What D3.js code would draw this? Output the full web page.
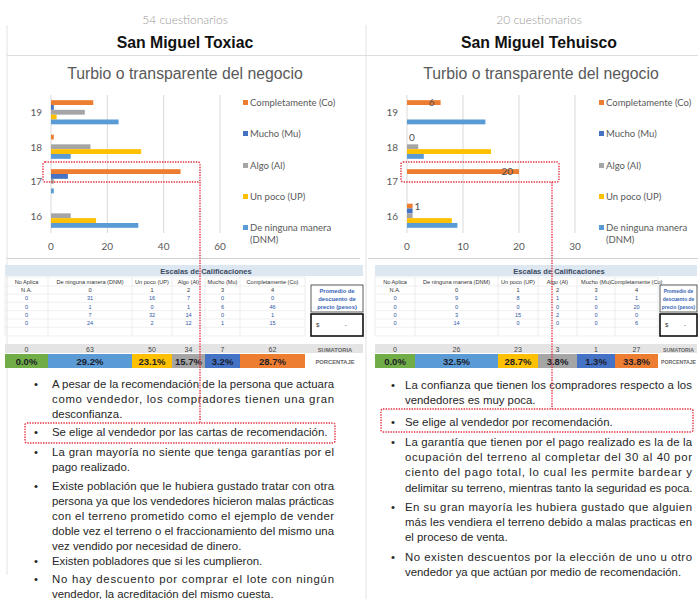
<!DOCTYPE html>
<html>
<head>
<meta charset="utf-8">
<script src="https://cdn.jsdelivr.net/npm/d3@7"></script>
<style>
  body { margin: 0; background: #fff; }
  svg { display: block; }
</style>
</head>
<body>
<svg id="chart"></svg>
<script>
// ---- Data ----
const questions = [19, 18, 17, 16];
const seriesKeys = ["Co", "Mu", "Al", "UP", "DNM"];
const seriesNames = ["Completamente (Co)", "Mucho (Mu)", "Algo (Al)", "Un poco (UP)", "De ninguna manera (DNM)"];
const seriesColors = ["#ed7d31", "#4472c4", "#a5a5a5", "#ffc000", "#5b9bd5"];

// San Miguel Toxiac, values for questions 19, 18, 17, 16
const toxiacCo = [15, 1, 46, 0];
const toxiacMu = [1, 0, 6, 0];
const toxiacAl = [12, 14, 1, 7];
const toxiacUP = [2, 32, 0, 16];
const toxiacDNM = [24, 7, 1, 31];

// San Miguel Tehuisco, values for questions 19, 18, 17, 16
const tehuiscoCo = [6, 0, 20, 1];
const tehuiscoMu = [0, 0, 0, 1];
const tehuiscoAl = [0, 2, 0, 1];
const tehuiscoUP = [0, 15, 0, 8];
const tehuiscoDNM = [14, 3, 0, 9];

const toxiacTicks = [0, 20, 40, 60];
const tehuiscoTicks = [0, 10, 20, 30];

const tableHeaders = ["No Aplica", "De ninguna manera (DNM)", "Un poco (UP)", "Algo (Al)", "Mucho (Mu)", "Completamente (Co)"];
const tableCodes = ["N.A.", "0", "1", "2", "3", "4"];
const pctColors = ["#70ad47", "#5b9bd5", "#ffc000", "#a5a5a5", "#4472c4", "#ed7d31"];

const toxiacBullets = [
  ["A pesar de la recomendación de la persona que actuara", "como vendedor, los compradores tienen una gran", "desconfianza."],
  ["Se elige al vendedor por las cartas de recomendación."],
  ["La gran mayoría no siente que tenga garantías por el", "pago realizado."],
  ["Existe población que le hubiera gustado tratar con otra", "persona ya que los vendedores hicieron malas prácticas", "con el terreno prometido como el ejemplo de vender", "doble vez el terreno o el fraccionamiento del mismo una", "vez vendido por necesidad de dinero."],
  ["Existen pobladores que si les cumplieron."],
  ["No hay descuento por comprar el lote con ningún", "vendedor, la acreditación del mismo cuesta."]
];
const tehuiscoBullets = [
  ["La confianza que tienen los compradores respecto a los", "vendedores es muy poca."],
  ["Se elige al vendedor por recomendación."],
  ["La garantía que tienen por el pago realizado es la de la", "ocupación del terreno al completar del 30 al 40 por", "ciento del pago total, lo cual les permite bardear y", "delimitar su terreno, mientras tanto la seguridad es poca."],
  ["En su gran mayoría les hubiera gustado que alguien", "más les vendiera el terreno debido a malas practicas en", "el proceso de venta."],
  ["No existen descuentos por la elección de uno u otro", "vendedor ya que actúan por medio de recomendación."]
];

// ---- Setup ----
const width = 698, height = 599;
const svg = d3.select("#chart").attr("width", width).attr("height", height);
svg.append("rect").attr("width", width).attr("height", height).attr("fill", "#fff");

const sans = "'Liberation Sans', Arial, sans-serif";
const calibri = "Lato, 'Open Sans', sans-serif";
const red = "#e2303f";

// panel frame lines
svg.append("line").attr("x1", 7).attr("x2", 7).attr("y1", 25).attr("y2", 575).attr("stroke", "#e3e3e3");
svg.append("line").attr("x1", 366).attr("x2", 366).attr("y1", 25).attr("y2", 599).attr("stroke", "#e3e3e3");
svg.append("line").attr("x1", 7).attr("x2", width).attr("y1", 55.5).attr("y2", 55.5).attr("stroke", "#dedede");

function drawHeader(cx, count, name) {
  svg.append("text").attr("x", cx).attr("y", 24).attr("text-anchor", "middle")
    .style("font-family", calibri).style("font-weight", 300).style("font-size", "12px")
    .attr("fill", "#9a9a9a").text(count);
  svg.append("text").attr("x", cx).attr("y", 48).attr("text-anchor", "middle")
    .style("font-family", sans).style("font-weight", "bold").style("font-size", "15.8px")
    .attr("fill", "#111").text(name);
}
drawHeader(185, "54 cuestionarios", "San Miguel Toxiac");
drawHeader(539, "20 cuestionarios", "San Miguel Tehuisco");

function drawChart(opts) {
  const g = svg.append("g");
  const rows = questions.map((q, i) => {
    const r = { q: q };
    seriesKeys.forEach(k => r[k] = opts.values[k][i]);
    return r;
  });

  g.append("text").attr("x", opts.titleX).attr("y", 79).attr("text-anchor", "middle")
    .style("font-family", sans).style("font-size", "15.8px").attr("fill", "#595959")
    .text("Turbio o transparente del negocio");

  const x = d3.scaleLinear().domain([0, d3.max(opts.ticks)]).range(opts.xRange);
  const y = d3.scaleBand().domain(questions).range([95, 233]).paddingInner(0.3).paddingOuter(0.15);
  const ySub = d3.scaleBand().domain(seriesKeys).range([0, y.bandwidth()]);

  // gridlines and tick labels
  g.selectAll(".grid").data(opts.ticks).enter().append("line")
    .attr("x1", d => x(d)).attr("x2", d => x(d)).attr("y1", 95).attr("y2", 233)
    .attr("stroke", "#d9d9d9");
  g.selectAll(".tick").data(opts.ticks).enter().append("text")
    .attr("x", d => x(d)).attr("y", 250).attr("text-anchor", "middle")
    .style("font-family", calibri).style("font-size", "10px").attr("fill", "#595959")
    .text(d => d);

  // category labels
  g.selectAll(".cat").data(questions).enter().append("text")
    .attr("x", opts.xRange[0] - 9).attr("y", d => y(d) + y.bandwidth() / 2 + 4)
    .attr("text-anchor", "end")
    .style("font-family", calibri).style("font-size", "10px").attr("fill", "#595959")
    .text(d => d);

  // bars
  seriesKeys.forEach((k, si) => {
    g.selectAll(".bar-" + k).data(rows).enter().append("rect")
      .attr("x", x(0))
      .attr("y", d => y(d.q) + ySub(k))
      .attr("width", d => x(d[k]) - x(0))
      .attr("height", ySub.bandwidth())
      .attr("fill", seriesColors[si]);
  });

  // data labels (Completamente only)
  if (opts.labels) {
    g.selectAll(".lbl").data(rows).enter().append("text")
      .attr("x", d => (x(d.Co) - x(0) > 20) ? x(d.Co) - 6 : x(d.Co) + 2)
      .attr("text-anchor", d => (x(d.Co) - x(0) > 20) ? "end" : "start")
      .attr("y", d => y(d.q) + ySub("Co") + ySub.bandwidth() / 2 + 3.5)
      .style("font-family", calibri).style("font-size", "10px").attr("fill", "#505050")
      .text(d => d.Co);
  }

  // legend
  const legY = [103, 134, 166, 197, 228];
  seriesKeys.forEach((k, si) => {
    g.append("rect").attr("x", opts.legendX).attr("y", legY[si] - 3)
      .attr("width", 5).attr("height", 5).attr("fill", seriesColors[si]);
    const t = g.append("text").attr("x", opts.legendX + 7).attr("y", legY[si] + 3)
      .style("font-family", calibri).style("font-size", "9.5px").attr("fill", "#595959");
    if (k === "DNM") {
      t.append("tspan").text("De ninguna manera");
      t.append("tspan").attr("x", opts.legendX + 7).attr("dy", 12).text("(DNM)");
    } else {
      t.text(seriesNames[si]);
    }
  });

  // faint chart frame bottom
  g.append("line").attr("x1", opts.frame[0]).attr("x2", opts.frame[1]).attr("y1", 258.5).attr("y2", 258.5)
    .attr("stroke", "#d0d0d0");
  return rows;
}

const toxiacRows = drawChart({
  values: { Co: toxiacCo, Mu: toxiacMu, Al: toxiacAl, UP: toxiacUP, DNM: toxiacDNM },
  ticks: toxiacTicks, xRange: [51, 220], titleX: 185, legendX: 243, labels: false, frame: [7, 360]
});
const tehuiscoRows = drawChart({
  values: { Co: tehuiscoCo, Mu: tehuiscoMu, Al: tehuiscoAl, UP: tehuiscoUP, DNM: tehuiscoDNM },
  ticks: tehuiscoTicks, xRange: [407, 575], titleX: 541, legendX: 599, labels: true, frame: [368, 698]
});

// ---- Tables ----
function drawTable(rows, cols, boxX, boxW, headerCx) {
  const g = svg.append("g");
  const x0 = cols[0], xEnd = boxX + boxW;
  const centers = d3.range(cols.length - 1).map(i => (cols[i] + cols[i + 1]) / 2);
  const tableRows = rows.slice().reverse().map(d => [0, d.DNM, d.UP, d.Al, d.Mu, d.Co]);
  const totals = d3.range(6).map(c => d3.sum(tableRows, r => r[c]));
  const grand = d3.sum(totals);
  const boxFont = boxW < 45 ? "4.9px" : "5.8px";

  g.append("rect").attr("x", x0).attr("y", 265).attr("width", xEnd - x0).attr("height", 11).attr("fill", "#dde7f2");
  g.append("text").attr("x", headerCx).attr("y", 273.5).attr("text-anchor", "middle")
    .style("font-family", sans).style("font-weight", "bold").style("font-size", "7.5px")
    .attr("fill", "#3b4a60").text("Escalas de Calificaciones");

  // faint grid
  const rowLines = [277, 286, 294, 302.3, 310.6, 319, 327.3, 336];
  rowLines.forEach(yy => g.append("line").attr("x1", x0).attr("x2", cols[cols.length - 1])
    .attr("y1", yy).attr("y2", yy).attr("stroke", "#e6e6e6").attr("stroke-width", 0.6));
  cols.forEach(cx => g.append("line").attr("x1", cx).attr("x2", cx).attr("y1", 277).attr("y2", 336)
    .attr("stroke", "#e0e0e0").attr("stroke-width", 0.6));

  const small = sel => sel.attr("text-anchor", "middle").style("font-family", sans).style("font-size", "5.6px");
  tableHeaders.forEach((h, i) => small(g.append("text")).attr("x", centers[i]).attr("y", 283.5).attr("fill", "#333").text(h));
  tableCodes.forEach((h, i) => small(g.append("text")).attr("x", centers[i]).attr("y", 292).attr("fill", "#333").text(h));
  tableRows.forEach((r, ri) => r.forEach((v, ci) => small(g.append("text"))
    .attr("x", centers[ci]).attr("y", 300.3 + ri * 8.3).attr("fill", "#2f56a6").text(v)));

  // totals row
  g.append("rect").attr("x", x0).attr("y", 344).attr("width", xEnd - x0).attr("height", 9).attr("fill", "#e4e4e4");
  totals.forEach((v, i) => g.append("text").attr("x", centers[i]).attr("y", 351.5).attr("text-anchor", "middle")
    .style("font-family", sans).style("font-size", "7px").attr("fill", "#444").text(v));

  // percentage row
  totals.forEach((v, i) => {
    g.append("rect").attr("x", cols[i]).attr("y", 354).attr("width", cols[i + 1] - cols[i]).attr("height", 14)
      .attr("fill", pctColors[i]);
    g.append("text").attr("x", centers[i]).attr("y", 364.5).attr("text-anchor", "middle")
      .style("font-family", sans).style("font-weight", "bold").style("font-size", "9.5px")
      .attr("fill", "#1c1c28").text((v / grand * 100).toFixed(1) + "%");
  });

  const lblX = (cols[cols.length - 1] + xEnd) / 2 + 1;
  ["SUMATORIA", "PORCENTAJE"].forEach((t, i) => g.append("text").attr("x", lblX).attr("y", 351.5 + i * 12.5)
    .attr("text-anchor", "middle").style("font-family", sans).style("font-weight", "bold")
    .style("font-size", boxW < 45 ? "5.2px" : "5.8px").attr("fill", "#666").text(t));

  // price box
  g.append("rect").attr("x", boxX).attr("y", 285).attr("width", boxW).attr("height", 27)
    .attr("fill", "#fff").attr("stroke", "#333").attr("stroke-width", 0.8);
  ["Promedio de", "descuento de", "precio (pesos)"].forEach((t, i) => g.append("text")
    .attr("x", boxX + boxW / 2).attr("y", 293 + i * 7.8).attr("text-anchor", "middle")
    .style("font-family", sans).style("font-weight", "bold").style("font-size", boxFont)
    .attr("fill", "#3563b5").text(t));
  g.append("rect").attr("x", boxX).attr("y", 314).attr("width", boxW).attr("height", 22)
    .attr("fill", "#fff").attr("stroke", "#111").attr("stroke-width", 1.6);
  g.append("text").attr("x", boxX + 5).attr("y", 327).style("font-family", sans).style("font-size", "6px")
    .attr("fill", "#333").text("$");
  g.append("text").attr("x", boxX + boxW * 0.65).attr("y", 327).style("font-family", sans).style("font-size", "6px")
    .attr("fill", "#333").text("-");
}

drawTable(toxiacRows, [5, 48, 132, 172, 205, 240, 305], 311, 52, 206);
drawTable(tehuiscoRows, [375, 415, 498, 538, 577, 615, 658], 660, 37, 559);

// ---- Bullet text ----
function drawBullets(paras, starts, bulletX, textX, textW, lineH) {
  const g = svg.append("g").style("font-family", sans).style("font-size", "11.4px").attr("fill", "#262626");
  paras.forEach((lines, pi) => {
    g.append("text").attr("x", bulletX).attr("y", starts[pi] + 4).text("•");
    lines.forEach((ln, li) => {
      const t = g.append("text").attr("x", textX).attr("y", starts[pi] + li * lineH + 4).text(ln);
      if (li < lines.length - 1) t.attr("textLength", textW).attr("lengthAdjust", "spacing");
    });
  });
}
drawBullets(toxiacBullets, [384, 432, 452, 486, 561, 579], 34, 52, 282, 14.9);
drawBullets(tehuiscoBullets, [385, 422, 442, 507, 557], 391, 405, 287, 15.2);

// ---- Red dotted highlights ----
const hl = svg.append("g").attr("fill", "none").attr("stroke", red).attr("stroke-width", 1.4)
  .attr("stroke-dasharray", "1.4 1.2");
hl.append("rect").attr("x", 43).attr("y", 162).attr("width", 157).attr("height", 20).attr("rx", 2);
hl.append("line").attr("x1", 200).attr("x2", 200).attr("y1", 182).attr("y2", 423);
hl.append("rect").attr("x", 25).attr("y", 423).attr("width", 310).attr("height", 20).attr("rx", 2);
hl.append("rect").attr("x", 401).attr("y", 162).attr("width", 158).attr("height", 20).attr("rx", 2);
hl.append("line").attr("x1", 552).attr("x2", 552).attr("y1", 182).attr("y2", 409);
hl.append("rect").attr("x", 381).attr("y", 409).attr("width", 312).attr("height", 23).attr("rx", 2);
</script>
</body>
</html>
